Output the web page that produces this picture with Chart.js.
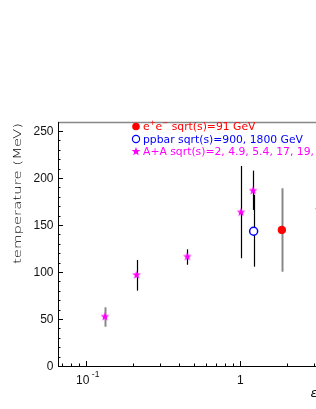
<!DOCTYPE html>
<html>
<head>
  <meta charset="UTF-8">
  <title>temperature vs epsilon</title>
  <script src="https://cdn.jsdelivr.net/npm/chart.js"></script>
  <style>
    html, body { margin: 0; padding: 0; background: #fff; overflow: hidden; }
  </style>
</head>
<body>
<canvas id="tempChart" width="360" height="409"></canvas>

<script>
  // A+A points (epsilon, temperature, error bar low / high)
  var aaEps  = [0.132, 0.212, 0.453, 1.01, 1.21, 3.25];
  var aaTemp = [52.5, 96.8, 116.3, 163.5, 186.5, 166];
  var aaLow  = [41.8, 80.1, 107.7, 114.6, 166, null];
  var aaHigh = [62.4, 112.8, 124.1, 212.8, 207.8, null];

  // ppbar
  var ppEps  = [1.22];
  var ppTemp = [143.3];
  var ppLow  = [105.6];
  var ppHigh = [182];

  // e+e-
  var eeEps  = [1.86];
  var eeTemp = [144.7];
  var eeLow  = [100.3];
  var eeHigh = [189];

  // axis ticks and labels
  var yMajor = [0, 50, 100, 150, 200, 250];
  var yMinor = [10, 20, 30, 40, 60, 70, 80, 90, 110, 120, 130, 140, 160, 170, 180, 190, 210, 220, 230, 240];
  var xMajor = [0.1, 1];
  var xMinor = [0.07, 0.08, 0.09, 0.2, 0.3, 0.4, 0.5, 0.6, 0.7, 0.8, 0.9, 2, 3, 4];
  var yTitle = 'temperature (MeV)';
  var xTitle = '\u03b5';
  var legendLabels = ['sqrt(s)=91 GeV', 'ppbar sqrt(s)=900, 1800 GeV', 'A+A sqrt(s)=2, 4.9, 5.4, 17, 19,'];

  var LEG_FONT = '10.6px "DejaVu Sans", sans-serif';
  var SUP_FONT = '7px "DejaVu Sans", sans-serif';

  function toPoints(xs, ys) {
    return xs.map(function(x, i) { return { x: x, y: ys[i] }; });
  }

  function makeStar(r, color) {
    var c = document.createElement('canvas');
    var s = Math.ceil(r * 2 + 2);
    c.width = s; c.height = s;
    var g = c.getContext('2d');
    drawStar(g, s / 2, s / 2, r, color);
    return c;
  }

  function drawStar(g, cx, cy, r, color) {
    var ri = r * 0.42;
    g.beginPath();
    for (var k = 0; k < 10; k++) {
      var rr = k % 2 === 0 ? r : ri;
      var a = -Math.PI / 2 + k * Math.PI / 5;
      var px = cx + rr * Math.cos(a), py = cy + rr * Math.sin(a);
      if (k === 0) g.moveTo(px, py); else g.lineTo(px, py);
    }
    g.closePath();
    g.fillStyle = color;
    g.fill();
  }

  var starImg = makeStar(4.6, '#ff00ff');

  var rootStyle = {
    id: 'rootStyle',
    beforeDatasetsDraw: function(chart) {
      var ctx = chart.ctx;
      var xs = chart.scales.x, ys = chart.scales.y;
      chart.data.datasets.forEach(function(ds) {
        ds.data.forEach(function(p, i) {
          if (ds.errLow[i] == null) return;
          var px = Math.round(xs.getPixelForValue(p.x)) + 0.5;
          ctx.save();
          ctx.strokeStyle = ds.errColor[i];
          ctx.lineWidth = ds.errColor[i] === '#888888' ? 2 : 1.2;
          ctx.beginPath();
          ctx.moveTo(px, ys.getPixelForValue(ds.errLow[i]));
          ctx.lineTo(px, ys.getPixelForValue(ds.errHigh[i]));
          ctx.stroke();
          ctx.restore();
        });
      });
    },
    afterDraw: function(chart) {
      var ctx = chart.ctx;
      var a = chart.chartArea;
      var xs = chart.scales.x, ys = chart.scales.y;
      ctx.save();

      // frame
      ctx.strokeStyle = '#888888';
      ctx.lineWidth = 1.5;
      ctx.beginPath();
      ctx.moveTo(a.left, a.top + 0.5);
      ctx.lineTo(a.right, a.top + 0.5);
      ctx.stroke();

      ctx.strokeStyle = '#000000';
      ctx.lineWidth = 1;
      ctx.beginPath();
      ctx.moveTo(a.left + 0.5, a.top);
      ctx.lineTo(a.left + 0.5, a.bottom + 0.5);
      ctx.lineTo(a.right, a.bottom + 0.5);
      ctx.stroke();

      // y ticks (inside)
      ctx.beginPath();
      yMajor.forEach(function(v) {
        var py = Math.round(ys.getPixelForValue(v)) + 0.5;
        ctx.moveTo(a.left, py); ctx.lineTo(a.left + 5, py);
      });
      yMinor.forEach(function(v) {
        var py = Math.round(ys.getPixelForValue(v)) + 0.5;
        ctx.moveTo(a.left, py); ctx.lineTo(a.left + 2.5, py);
      });
      // x ticks (inside)
      xMajor.forEach(function(v) {
        var px = Math.round(xs.getPixelForValue(v)) + 0.5;
        ctx.moveTo(px, a.bottom); ctx.lineTo(px, a.bottom - 5);
      });
      xMinor.forEach(function(v) {
        var px = Math.round(xs.getPixelForValue(v)) + 0.5;
        ctx.moveTo(px, a.bottom); ctx.lineTo(px, a.bottom - 2.5);
      });
      ctx.stroke();

      // y tick labels
      ctx.fillStyle = '#111111';
      ctx.font = '12px "Liberation Sans", Arial, sans-serif';
      ctx.textAlign = 'right';
      ctx.textBaseline = 'middle';
      yMajor.forEach(function(v) {
        ctx.fillText(String(v), a.left - 4.5, ys.getPixelForValue(v) + 0.5);
      });

      // x tick labels: 10^-1 and 1
      ctx.textBaseline = 'alphabetic';
      ctx.textAlign = 'right';
      var p01 = xs.getPixelForValue(xMajor[0]);
      ctx.fillText('10', p01 + 3, 384);
      ctx.font = '8.5px "Liberation Sans", Arial, sans-serif';
      ctx.textAlign = 'left';
      ctx.fillText('-1', p01 + 5.5, 376.5);
      ctx.font = '12px "Liberation Sans", Arial, sans-serif';
      ctx.textAlign = 'center';
      ctx.fillText('1', xs.getPixelForValue(xMajor[1]), 384);

      // x title (cut by the window edge)
      ctx.textAlign = 'left';
      ctx.font = 'italic 13px "DejaVu Sans", sans-serif';
      ctx.fillText(xTitle, 310.5, 397);

      // y title, rotated and stretched along its length
      ctx.save();
      ctx.fillStyle = '#000000';
      ctx.font = '200 11px "DejaVu Sans", sans-serif';
      ctx.translate(20.7, 264);
      ctx.rotate(-Math.PI / 2);
      var tw = ctx.measureText(yTitle).width;
      ctx.scale(141 / tw, 1);
      ctx.fillText(yTitle, 0, 0);
      ctx.restore();

      // legend
      ctx.font = LEG_FONT;
      var sx = 160 / ctx.measureText(legendLabels[1]).width;
      var tx = 143, mx = 136;
      var rows = [130, 142.5, 155];

      // row 1 : e+e-
      ctx.fillStyle = '#ff0000';
      ctx.beginPath(); ctx.arc(mx, rows[0] - 3.5, 3.8, 0, Math.PI * 2); ctx.fill();
      ctx.save();
      ctx.translate(tx, rows[0]);
      ctx.scale(sx, 1);
      var cx = 0;
      ctx.fillText('e', cx, 0); cx += ctx.measureText('e').width;
      ctx.font = SUP_FONT;
      ctx.fillText('+', cx, -5); cx += ctx.measureText('+').width;
      ctx.font = LEG_FONT;
      ctx.fillText('e', cx, 0); cx += ctx.measureText('e').width;
      ctx.font = SUP_FONT;
      ctx.fillText('\u2212', cx, -5); cx += ctx.measureText('\u2212').width;
      ctx.font = LEG_FONT;
      ctx.fillText(' ' + legendLabels[0], cx, 0);
      ctx.restore();

      // row 2 : ppbar
      ctx.strokeStyle = '#0000ff';
      ctx.fillStyle = '#0000ff';
      ctx.lineWidth = 1.2;
      ctx.beginPath(); ctx.arc(mx, rows[1] - 3.5, 3.6, 0, Math.PI * 2); ctx.stroke();
      ctx.save();
      ctx.translate(tx, rows[1]);
      ctx.scale(sx, 1);
      ctx.fillText(legendLabels[1], 0, 0);
      ctx.restore();

      // row 3 : A+A
      drawStar(ctx, mx, rows[2] - 3.5, 4.6, '#ff00ff');
      ctx.fillStyle = '#ff00ff';
      ctx.save();
      ctx.translate(tx, rows[2]);
      ctx.scale(sx, 1);
      ctx.fillText(legendLabels[2], 0, 0);
      ctx.restore();

      ctx.restore();
    }
  };

  var ctx = document.getElementById('tempChart').getContext('2d');
  var tempChart = new Chart(ctx, {
    type: 'scatter',
    data: {
      datasets: [
        {
          label: 'A+A',
          data: toPoints(aaEps, aaTemp),
          errLow: aaLow,
          errHigh: aaHigh,
          errColor: ['#888888', '#000000', '#000000', '#000000', '#000000', '#000000'],
          pointStyle: starImg,
          order: 1
        },
        {
          label: 'ppbar',
          data: toPoints(ppEps, ppTemp),
          errLow: ppLow,
          errHigh: ppHigh,
          errColor: ['#000000'],
          pointStyle: 'circle',
          pointRadius: 4,
          pointBorderWidth: 1.5,
          pointBorderColor: '#0000ff',
          pointBackgroundColor: '#ffffff',
          order: 2
        },
        {
          label: 'e+e-',
          data: toPoints(eeEps, eeTemp),
          errLow: eeLow,
          errHigh: eeHigh,
          errColor: ['#888888'],
          pointStyle: 'circle',
          pointRadius: 3.8,
          pointBorderWidth: 1,
          pointBorderColor: '#ff0000',
          pointBackgroundColor: '#ff0000',
          order: 3
        }
      ]
    },
    options: {
      responsive: false,
      animation: false,
      layout: { padding: { left: 58, top: 122, right: 12, bottom: 43 } },
      plugins: { legend: { display: false }, tooltip: { enabled: false } },
      scales: {
        x: { type: 'logarithmic', display: false, min: 0.0655, max: 5, bounds: 'data' },
        y: { type: 'linear', display: false, min: 0, max: 259.5 }
      }
    },
    plugins: [rootStyle]
  });
</script>
</body>
</html>
